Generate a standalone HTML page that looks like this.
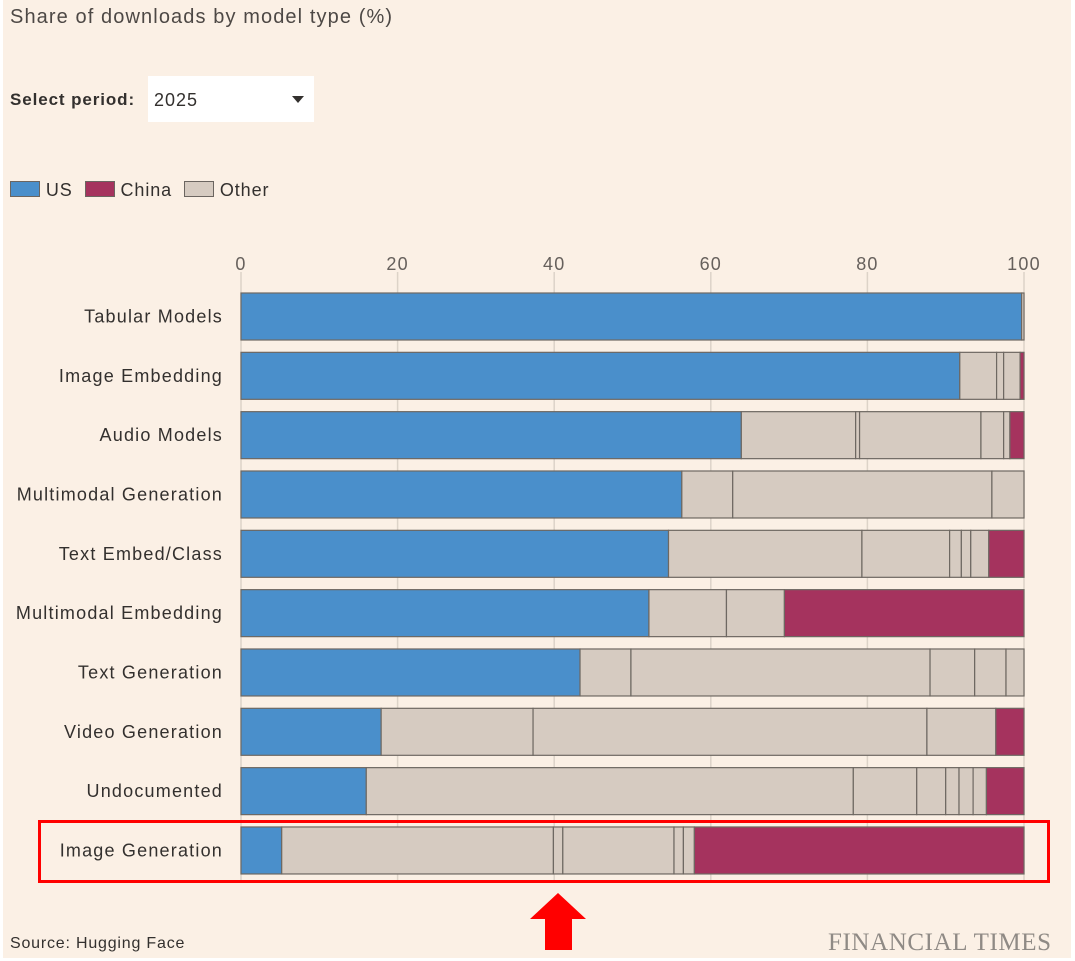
<!DOCTYPE html>
<html><head><meta charset="utf-8"><style>
body{margin:0;width:1075px;height:961px;background:#fff;font-family:"Liberation Sans",sans-serif;overflow:hidden}
#wrap{position:absolute;left:3px;top:0;width:1068px;height:958px;background:#fbf0e5}
.t{position:absolute;color:#33302e}
</style></head><body>
<div id="wrap"></div>
<div class="t" style="left:10px;top:6px;font-size:20px;letter-spacing:1.1px;color:#4d4845">Share of downloads by model type (%)</div>
<div class="t" style="left:10px;top:90px;font-size:17px;font-weight:bold;letter-spacing:0.9px">Select period:</div>
<div style="position:absolute;left:148px;top:76px;width:166px;height:46px;background:#fff">
<span style="position:absolute;left:6px;top:14px;font-size:18px;letter-spacing:1px;color:#33302e">2025</span>
<span style="position:absolute;left:144px;top:20px;width:0;height:0;border-left:6px solid transparent;border-right:6px solid transparent;border-top:7px solid #33302e"></span></div>
<div style="position:absolute;left:10px;top:180px;font-size:18px;letter-spacing:0.9px;color:#33302e;white-space:nowrap">
<span><span style="display:inline-block;width:28px;height:14px;background:#4a8fcb;border:1px solid #6b6560;vertical-align:-1px"></span> US</span>
<span style="margin-left:6px"><span style="display:inline-block;width:28px;height:14px;background:#a5335e;border:1px solid #6b6560;vertical-align:-1px"></span> China</span>
<span style="margin-left:6px"><span style="display:inline-block;width:28px;height:14px;background:#d6cbc1;border:1px solid #6b6560;vertical-align:-1px"></span> Other</span></div>
<svg id="c" width="1075" height="961" style="position:absolute;left:0;top:0"></svg>
<div class="t" style="left:10px;top:935px;font-size:16px;letter-spacing:0.8px">Source: Hugging Face</div>
<div class="t" style="left:828px;top:929px;font-size:25px;font-family:'Liberation Serif',serif;color:#8f8a85;letter-spacing:0.6px">FINANCIAL TIMES</div>
<div style="position:absolute;left:38px;top:820px;width:1006px;height:57px;border:3px solid #f00"></div>
<svg width="1075" height="961" style="position:absolute;left:0;top:0"><polygon points="558,893 586,919 572,919 572,950 545,950 545,919 530,919" fill="#f00"/></svg>
<script>
const categories=["Tabular Models","Image Embedding","Audio Models","Multimodal Generation","Text Embed/Class","Multimodal Embedding","Text Generation","Video Generation","Undocumented","Image Generation"];
const usShare=[99.7,91.8,63.9,56.3,54.6,52.1,43.3,17.9,16.0,5.2];
const otherSegments=[[0.3],[4.7,0.9,2.1],[14.6,0.5,15.5,2.9,0.8],[6.5,33.1,4.1],[24.7,11.2,1.5,1.2,2.3],[9.9,7.4],[6.5,38.2,5.7,4.0,2.3],[19.4,50.3,8.8],[62.2,8.1,3.7,1.7,1.8,1.7],[34.7,1.2,14.2,1.2,1.4]];
const chinaShare=[0,0.5,1.8,0,4.5,30.6,0,3.6,4.8,42.1];
const ticks=[0,20,40,60,80,100];
const svg=document.getElementById('c');const NS='http://www.w3.org/2000/svg';
const X0=241,X1=1024,TOP=293,PITCH=59.33,BH=47;
const x=v=>X0+(X1-X0)*v/100;
const y=i=>TOP+i*PITCH;
function mk(t,a){const e=document.createElementNS(NS,t);for(const k in a)e.setAttribute(k,a[k]);svg.appendChild(e);return e;}
ticks.forEach(t=>{
const g=mk('line',{x1:x(t),x2:x(t),y1:272,y2:882,stroke:'#ddd3c8','stroke-width':1.5});


const l=mk('text',{x:x(t),y:270,'text-anchor':'middle','font-size':18,'letter-spacing':1.2,fill:'#66605c','font-family':'Liberation Sans, sans-serif'});
l.textContent=t;


});
categories.forEach((c,i)=>{
const yy=y(i);
const lab=mk('text',{x:223,y:yy+BH/2+6,'text-anchor':'end','font-size':18,'letter-spacing':1.2,fill:'#33302e','font-family':'Liberation Sans, sans-serif'});
lab.textContent=c;


let cum=0;
const segs=[[usShare[i],'#4a8fcb','bar-us']].concat(otherSegments[i].map(v=>[v,'#d6cbc1','bar-other'])).concat([[chinaShare[i],'#a5335e','bar-china']]);
segs.forEach(s=>{if(s[0]<=0)return;
const r=mk('rect',{x:x(cum),y:yy,width:x(cum+s[0])-x(cum),height:BH,fill:s[1],stroke:'#6e6862','stroke-width':1.2});


cum+=s[0];});
});
</script>
</body></html>
